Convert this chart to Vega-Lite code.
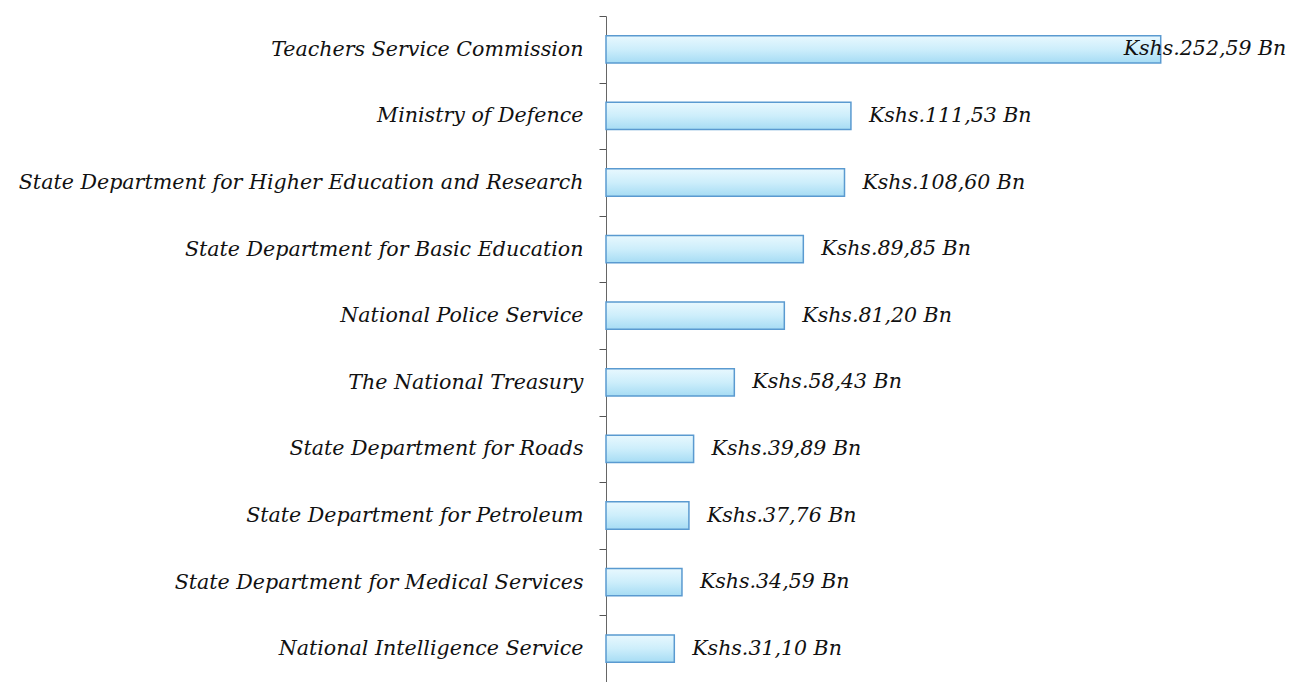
{
  "$schema": "https://vega.github.io/schema/vega-lite/v6.json",
  "autosize": {"type": "none"},
  "padding": {"left": 606, "top": 16, "right": 112, "bottom": 0},
  "width": 571,
  "height": 666,
  "background": "white",
  "config": {"view": {"stroke": null}},
  "data": {
    "values": [
      {"name": "Teachers Service Commission", "value": 252.59, "label": "Kshs.252,59 Bn"},
      {"name": "Ministry of Defence", "value": 111.53, "label": "Kshs.111,53 Bn"},
      {"name": "State Department for Higher Education and Research", "value": 108.60, "label": "Kshs.108,60 Bn"},
      {"name": "State Department for Basic Education", "value": 89.85, "label": "Kshs.89,85 Bn"},
      {"name": "National Police Service", "value": 81.20, "label": "Kshs.81,20 Bn"},
      {"name": "The National Treasury", "value": 58.43, "label": "Kshs.58,43 Bn"},
      {"name": "State Department for Roads", "value": 39.89, "label": "Kshs.39,89 Bn"},
      {"name": "State Department for Petroleum", "value": 37.76, "label": "Kshs.37,76 Bn"},
      {"name": "State Department for Medical Services", "value": 34.59, "label": "Kshs.34,59 Bn"},
      {"name": "National Intelligence Service", "value": 31.10, "label": "Kshs.31,10 Bn"}
    ]
  },
  "encoding": {
    "y": {
      "field": "name",
      "type": "nominal",
      "sort": null,
      "scale": {"paddingInner": 0.59, "paddingOuter": 0.295},
      "axis": {
        "title": null,
        "tickOffset": -33.3,
        "labelOffset": 33.3,
        "tickSize": 7,
        "tickColor": "#555",
        "domainColor": "#666",
        "labelPadding": 16,
        "labelFont": "DejaVu Serif",
        "labelFontStyle": "italic",
        "labelFontSize": 20.6,
        "labelColor": "#111111",
        "labelLimit": 700
      }
    }
  },
  "layer": [
    {
      "mark": {
        "type": "bar",
        "stroke": "#5a9ad0",
        "strokeWidth": 1.5,
        "color": {
          "gradient": "linear",
          "x1": 0, "y1": 0, "x2": 0, "y2": 1,
          "stops": [
            {"offset": 0, "color": "#e8f8fe"},
            {"offset": 0.5, "color": "#cdeefb"},
            {"offset": 1, "color": "#a6dcf4"}
          ]
        }
      },
      "encoding": {
        "x": {"field": "value", "type": "quantitative", "scale": {"domain": [0, 260], "nice": false}, "axis": null}
      }
    },
    {
      "transform": [{"filter": "datum.value < 200"}],
      "mark": {"type": "text", "align": "left", "dx": 18, "font": "DejaVu Serif", "fontStyle": "italic", "fontSize": 20.5, "color": "#111111"},
      "encoding": {
        "x": {"field": "value", "type": "quantitative"},
        "text": {"field": "label"}
      }
    },
    {
      "transform": [{"filter": "datum.value >= 200"}],
      "mark": {"type": "text", "align": "left", "dx": -37, "font": "DejaVu Serif", "fontStyle": "italic", "fontSize": 20.5, "color": "#111111"},
      "encoding": {
        "x": {"field": "value", "type": "quantitative"},
        "text": {"field": "label"}
      }
    }
  ]
}
